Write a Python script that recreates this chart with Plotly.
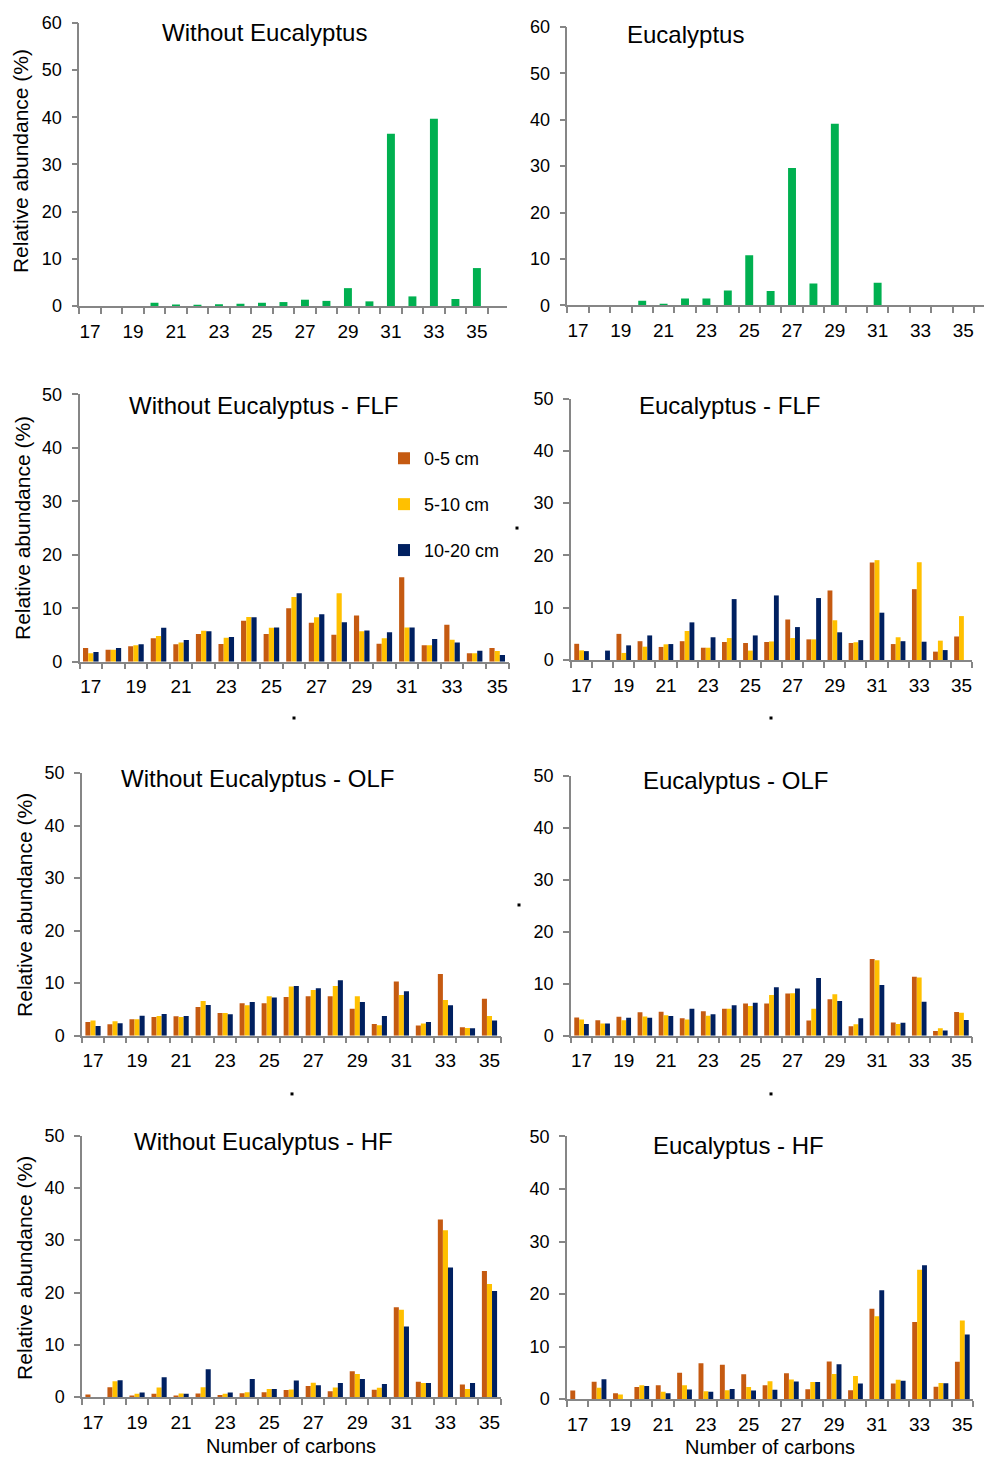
import plotly.graph_objects as go

W, H = 985, 1464

carbons = list(range(17, 36))
label_carbons = [17, 19, 21, 23, 25, 27, 29, 31, 33, 35]
series_names = ["0-5 cm", "5-10 cm", "10-20 cm"]
series_colors = ["#C55A11", "#FFC000", "#002060"]
green = "#00B050"

# Whole-profile relative abundances (%)
wo_total = [0, 0, 0, 0.7, 0.35, 0.2, 0.4, 0.5, 0.7, 0.85, 1.35, 1.1, 3.8, 1.0, 36.5, 2.05, 39.7, 1.5, 8.05]
eu_total = [0, 0, 0, 1.0, 0.3, 1.5, 1.5, 3.2, 10.8, 3.1, 29.6, 4.7, 39.1, 0, 4.9, 0, 0, 0, 0]

# Without Eucalyptus - FLF
wo_flf_0_5 = [2.55, 2.25, 2.9, 4.4, 3.25, 5.2, 3.3, 7.65, 5.2, 10.0, 7.3, 5.05, 8.65, 3.35, 15.8, 3.1, 6.9, 1.6, 2.55]
wo_flf_5_10 = [1.6, 2.25, 3.1, 4.8, 3.6, 5.8, 4.5, 8.35, 6.35, 12.1, 8.3, 12.8, 5.7, 4.4, 6.4, 3.1, 4.1, 1.6, 2.0]
wo_flf_10_20 = [1.8, 2.55, 3.25, 6.35, 4.05, 5.7, 4.6, 8.3, 6.4, 12.8, 8.85, 7.4, 5.85, 5.5, 6.4, 4.25, 3.6, 2.05, 1.25]

# Eucalyptus - FLF
eu_flf_0_5 = [3.1, 0, 5.0, 3.6, 2.5, 3.6, 2.35, 3.45, 3.25, 3.45, 7.75, 3.95, 13.3, 3.25, 18.65, 3.05, 13.55, 1.6, 4.5]
eu_flf_5_10 = [1.85, 0, 1.35, 2.55, 3.0, 5.55, 2.35, 4.2, 1.8, 3.55, 4.2, 3.95, 7.6, 3.4, 19.1, 4.35, 18.7, 3.7, 8.4]
eu_flf_10_20 = [1.7, 1.8, 2.8, 4.7, 3.05, 7.2, 4.35, 11.65, 4.7, 12.35, 6.3, 11.85, 5.3, 3.8, 9.05, 3.6, 3.5, 1.9, 0]

# Without Eucalyptus - OLF
wo_olf_0_5 = [2.6, 2.15, 3.1, 3.55, 3.7, 5.45, 4.3, 6.15, 6.15, 7.35, 7.5, 7.5, 5.1, 2.2, 10.3, 1.95, 11.75, 1.6, 7.0]
wo_olf_5_10 = [2.9, 2.75, 3.1, 3.75, 3.55, 6.6, 4.3, 5.8, 7.5, 9.35, 8.7, 9.45, 7.5, 2.0, 7.75, 2.3, 6.8, 1.45, 3.75]
wo_olf_10_20 = [1.85, 2.35, 3.8, 4.1, 3.75, 5.85, 4.05, 6.4, 7.25, 9.45, 9.0, 10.55, 6.4, 3.75, 8.45, 2.6, 5.8, 1.4, 2.9]

# Eucalyptus - OLF
eu_olf_0_5 = [3.5, 2.95, 3.65, 4.5, 4.6, 3.35, 4.7, 5.15, 6.2, 6.2, 8.1, 2.9, 7.0, 1.8, 14.75, 2.55, 11.35, 0.9, 4.55]
eu_olf_5_10 = [3.1, 2.35, 2.95, 3.7, 3.9, 3.1, 3.85, 5.15, 5.7, 7.8, 8.15, 5.15, 7.95, 2.2, 14.5, 2.25, 11.2, 1.4, 4.4]
eu_olf_10_20 = [2.25, 2.35, 3.45, 3.45, 3.8, 5.15, 4.1, 5.85, 6.35, 9.3, 9.05, 11.1, 6.65, 3.35, 9.75, 2.5, 6.5, 1.0, 3.0]

# Without Eucalyptus - HF
wo_hf_0_5 = [0.5, 1.9, 0.2, 0.65, 0.2, 0.7, 0.4, 0.75, 0.95, 1.35, 2.15, 1.15, 4.95, 1.4, 17.2, 2.95, 33.95, 2.4, 24.1]
wo_hf_5_10 = [0, 3.05, 0.65, 1.85, 0.7, 1.9, 0.65, 0.95, 1.55, 1.45, 2.75, 1.85, 4.45, 1.8, 16.7, 2.7, 31.9, 1.55, 21.65]
wo_hf_10_20 = [0, 3.25, 0.9, 3.8, 0.65, 5.35, 0.9, 3.45, 1.55, 3.2, 2.3, 2.7, 3.45, 2.5, 13.5, 2.7, 24.8, 2.7, 20.3]

# Eucalyptus - HF
eu_hf_0_5 = [1.65, 3.3, 1.15, 2.3, 2.65, 5.05, 6.85, 6.55, 4.75, 2.65, 4.95, 1.9, 7.15, 1.7, 17.2, 3.0, 14.7, 2.35, 7.1]
eu_hf_5_10 = [0, 2.15, 0.9, 2.65, 1.4, 2.65, 1.5, 1.7, 2.3, 3.4, 3.75, 3.25, 4.8, 4.4, 15.8, 3.7, 24.65, 3.1, 14.95]
eu_hf_10_20 = [0, 3.8, 0, 2.5, 1.15, 1.85, 1.4, 1.95, 1.65, 1.8, 3.35, 3.25, 6.65, 3.0, 20.75, 3.5, 25.5, 3.05, 12.3]

panel_titles = [
    "Without Eucalyptus", "Eucalyptus",
    "Without Eucalyptus - FLF", "Eucalyptus - FLF",
    "Without Eucalyptus - OLF", "Eucalyptus - OLF",
    "Without Eucalyptus - HF", "Eucalyptus - HF",
]
y_title = "Relative abundance (%)"
x_title = "Number of carbons"

# ---- layout geometry (pixels as seen in the target picture) ----
# (x_left, x_right, y_top, y_bottom, ymax, xmax_range)
panels = [
    (79.25, 507, 22.7, 306, 60, 36.4),
    (567.3, 984, 26.7, 305.3, 60, 35.97),
    (79.5, 508.5, 394.2, 661.7, 50, 35.5),
    (571, 972, 398.5, 660, 50, 35.5),
    (82, 500.5, 773, 1035.7, 50, 35.5),
    (571, 972, 775.7, 1035.7, 50, 35.5),
    (82, 500.5, 1135.6, 1397.3, 50, 35.5),
    (567, 973, 1136.5, 1399.3, 50, 35.5),
]
title_pos = [(264, 32), (685, 34), (263, 405), (729, 405), (257, 779), (735, 781), (263, 1142), (738, 1146)]
ytitle_pos = [(20, 161), (22, 528), (25, 905), (25, 1268)]
xtitle_pos = [(291, 1446), (770, 1447)]
dots = [(517, 528), (294, 718), (771, 718), (519, 905), (292, 1094), (771, 1094)]

grouped_data = [
    (wo_flf_0_5, wo_flf_5_10, wo_flf_10_20),
    (eu_flf_0_5, eu_flf_5_10, eu_flf_10_20),
    (wo_olf_0_5, wo_olf_5_10, wo_olf_10_20),
    (eu_olf_0_5, eu_olf_5_10, eu_olf_10_20),
    (wo_hf_0_5, wo_hf_5_10, wo_hf_10_20),
    (eu_hf_0_5, eu_hf_5_10, eu_hf_10_20),
]

FONT = "Liberation Sans, Arial, sans-serif"
AXIS_COLOR = "#868686"

# the captured page is ~1484 px tall (10 px above and below the figure) and is
# squeezed to 1464 px, so map picture rows back to figure rows
VSCALE = 1464 / 1484
VOFF = 10


def px_x(v):
    return v / W


def px_y(v):
    fig_row = v / VSCALE - VOFF
    return 1 - fig_row / H


fig = go.Figure()

layout_axes = {}
for i, (xl, xr, yt, yb, ymax, xmax) in enumerate(panels):
    n = i + 1
    xa = "xaxis" if n == 1 else f"xaxis{n}"
    ya = "yaxis" if n == 1 else f"yaxis{n}"
    xref = "x" if n == 1 else f"x{n}"
    yref = "y" if n == 1 else f"y{n}"
    layout_axes[xa] = dict(
        domain=[px_x(xl), px_x(xr)], anchor=yref, range=[16.5, xmax],
        tickmode="array", tickvals=label_carbons, ticktext=[str(c) for c in label_carbons],
        ticks="outside", ticklen=0, tickcolor=AXIS_COLOR,
        minor=dict(ticks="outside", tick0=16.5, dtick=1, ticklen=6, tickcolor=AXIS_COLOR,
                   tickwidth=1.5, showgrid=False),
        showline=True, linecolor=AXIS_COLOR, linewidth=1.5,
        showgrid=False, zeroline=False, fixedrange=True,
        tickfont=dict(family=FONT, size=19, color="#000"),
        ticklabelstandoff=7,
    )
    layout_axes[ya] = dict(
        domain=[px_y(yb), px_y(yt)], anchor=xref, range=[0, ymax],
        tickmode="linear", tick0=0, dtick=10,
        ticks="outside", ticklen=6, tickcolor=AXIS_COLOR, tickwidth=1.5,
        showline=True, linecolor=AXIS_COLOR, linewidth=1.5,
        showgrid=False, zeroline=False, fixedrange=True,
        tickfont=dict(family=FONT, size=18, color="#000"),
        ticklabelstandoff=6,
    )

for n, vals in ((1, wo_total), (2, eu_total)):
    fig.add_trace(go.Bar(
        x=carbons, y=vals, width=0.37, marker=dict(color=green, line=dict(width=0)),
        xaxis="x" if n == 1 else f"x{n}", yaxis="y" if n == 1 else f"y{n}",
        showlegend=False,
    ))

for k, trio in enumerate(grouped_data):
    n = k + 3
    for s, vals in enumerate(trio):
        fig.add_trace(go.Bar(
            x=carbons, y=vals, name=series_names[s],
            marker=dict(color=series_colors[s], line=dict(width=0)),
            xaxis=f"x{n}", yaxis=f"y{n}",
            offsetgroup=str(s), legendgroup=series_names[s],
            showlegend=(n == 3),
        ))

annotations = []
for (cx, cy), t in zip(title_pos, panel_titles):
    annotations.append(dict(text=t, x=px_x(cx), y=px_y(cy), xref="paper", yref="paper",
                            xanchor="center", yanchor="middle", showarrow=False,
                            font=dict(family=FONT, size=24, color="#000")))
for cx, cy in ytitle_pos:
    annotations.append(dict(text=y_title, x=px_x(cx), y=px_y(cy), xref="paper", yref="paper",
                            xanchor="center", yanchor="middle", showarrow=False, textangle=-90,
                            font=dict(family=FONT, size=21, color="#000")))
for cx, cy in xtitle_pos:
    annotations.append(dict(text=x_title, x=px_x(cx), y=px_y(cy), xref="paper", yref="paper",
                            xanchor="center", yanchor="middle", showarrow=False,
                            font=dict(family=FONT, size=20, color="#000")))

shapes = []
for dx, dy in dots:
    shapes.append(dict(type="rect", xref="paper", yref="paper",
                       x0=px_x(dx - 1.5), x1=px_x(dx + 1.5), y0=px_y(dy + 1.5), y1=px_y(dy - 1.5),
                       fillcolor="#000", line=dict(width=0)))

fig.update_layout(
    width=W, height=H,
    margin=dict(l=0, r=0, t=0, b=0),
    paper_bgcolor="white", plot_bgcolor="white",
    barmode="group", bargap=0.31, bargroupgap=0,
    font=dict(family=FONT, color="#000"),
    annotations=annotations, shapes=shapes,
    legend=dict(x=px_x(384), y=px_y(440), xanchor="left", yanchor="top",
                font=dict(family=FONT, size=18, color="#000"),
                tracegroupgap=19.5, itemwidth=30, bgcolor="rgba(0,0,0,0)"),
    **layout_axes,
)

fig.write_html("out.html")
